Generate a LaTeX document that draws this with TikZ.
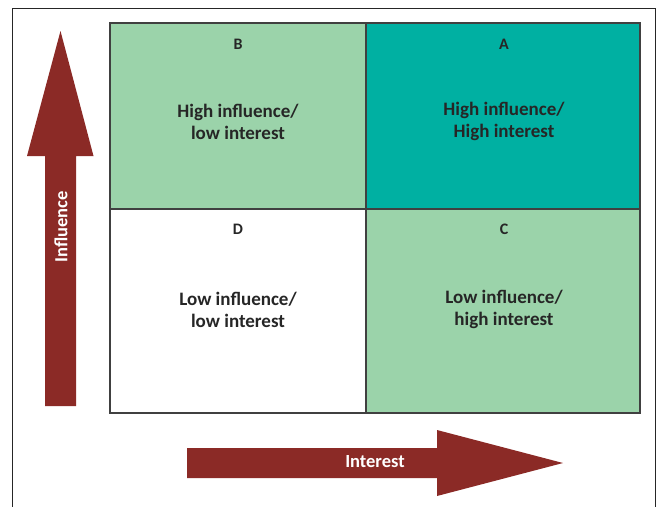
\documentclass[tikz,border=0pt]{standalone}
\usepackage{fontspec}
\setmainfont{Carlito}
\definecolor{arrowred}{HTML}{8B2A26}
\definecolor{tealq}{HTML}{00B0A2}
\definecolor{greenq}{HTML}{9BD3AA}
\definecolor{gridline}{HTML}{404040}
\definecolor{labeltext}{HTML}{262626}
\begin{document}
\begin{tikzpicture}[x=1pt,y=-1pt,
  quad/.style={draw=gridline,line width=1.4pt},
  qtext/.style={text=labeltext,font=\bfseries\fontsize{19}{22}\selectfont,align=center},
  qletter/.style={text=labeltext,font=\bfseries\fontsize{16}{18}\selectfont},
  bigarrow/.style={fill=arrowred,draw=none},
  arrowlabel/.style={text=white,font=\bfseries\fontsize{18.5}{20}\selectfont}]
\useasboundingbox (0,0) rectangle (660,506);
% outer frame, open at the bottom
\draw[line width=1pt,black!85] (12.5,510) -- (12.5,8.5) -- (655.5,8.5) -- (655.5,510);
% quadrants
\path[quad,fill=greenq] (110,23) rectangle (366,209);
\path[quad,fill=tealq] (366,23) rectangle (640,209);
\path[quad,fill=white] (110,209) rectangle (366,413);
\path[quad,fill=greenq] (366,209) rectangle (640,413);
\node[qletter] (lb) at (238,44) {B};
\node[qletter] (la) at (504,44) {A};
\node[qletter] (ld) at (238,229) {D};
\node[qletter] (lc) at (504,229) {C};
\node[qtext] (tb) at (238,121.5) {High influence/\\low interest};
\node[qtext] (ta) at (504,121.5) {High influence/\\High interest};
\node[qtext] (td) at (238,309.5) {Low influence/\\low interest};
\node[qtext] (tc) at (504,309.5) {Low influence/\\high interest};
% influence arrow
\path[bigarrow] (45,406) -- (45,156) -- (27,156) -- (60.5,31) -- (93.5,156) -- (76,156) -- (76,406) -- cycle;
\node[arrowlabel,rotate=90] (infl) at (61,227) {Influence};
% interest arrow
\path[bigarrow] (187,448) -- (437,448) -- (437,430) -- (563,463) -- (437,496) -- (437,478) -- (187,478) -- cycle;
\node[arrowlabel] (intr) at (375,462) {Interest};
\end{tikzpicture}
\end{document}
